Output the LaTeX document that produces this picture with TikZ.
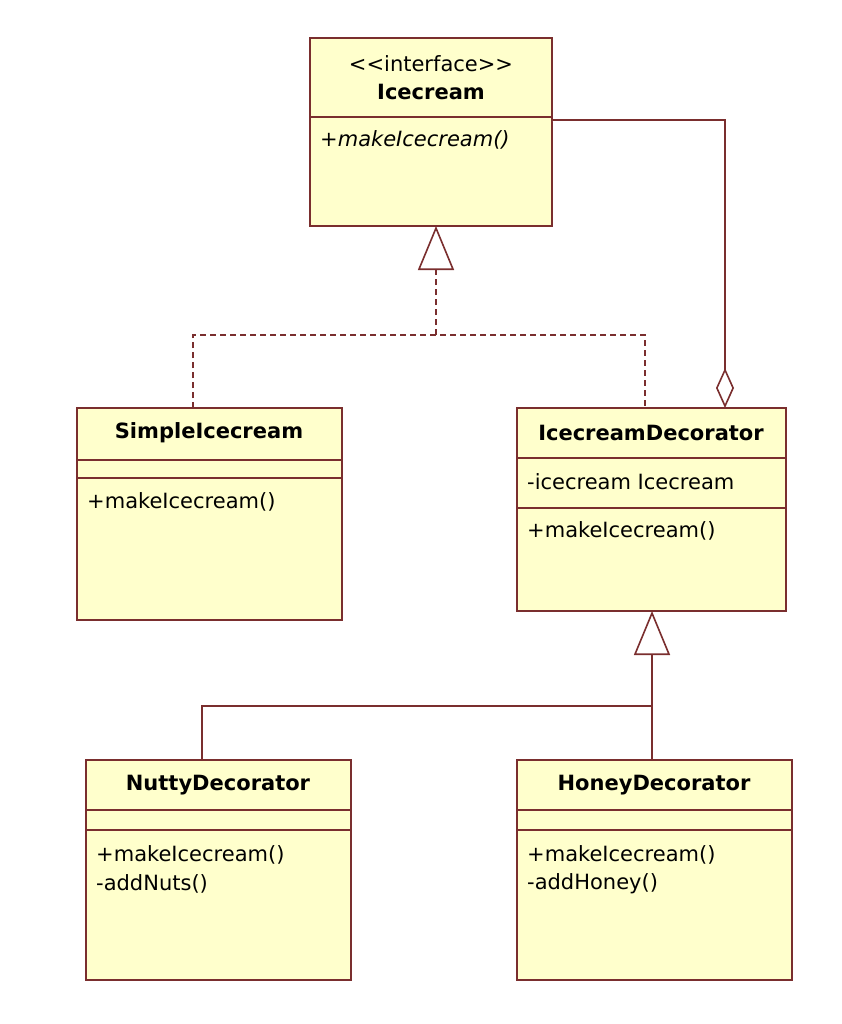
\documentclass[tikz,border=0pt]{standalone}
\usepackage{fontspec}
\setmainfont{DejaVu Sans}[Ligatures=NoCommon]
\usetikzlibrary{arrows.meta}
\definecolor{umlfill}{HTML}{FFFFCC}
\definecolor{umlline}{HTML}{7A2E2E}
\begin{document}
\begin{tikzpicture}[x=1pt,y=-1pt,
  box/.style={draw=umlline,fill=umlfill,line width=1.6pt},
  div/.style={draw=umlline,line width=1.6pt},
  conn/.style={draw=umlline,line width=1.6pt},
  txt/.style={font=\fontsize{21}{24}\selectfont,anchor=west,inner sep=0pt},
  ttl/.style={font=\fontsize{21}{24}\selectfont\bfseries,inner sep=0pt},
  gen/.style={-{Triangle[open,length=44pt,width=36pt]},fill=white},
  agg/.style={-{Diamond[open,length=40pt,width=18pt]},fill=white}]
\useasboundingbox (0,0) rectangle (841,1024);
\fill[white] (0,0) rectangle (841,1024);
% Icecream
\draw[box] (310,38) rectangle (552,226);
\draw[div] (310,117) -- (552,117);
\node[inner sep=0pt,font=\fontsize{21}{24}\selectfont] (ist) at (431,64) {<\kern0pt<interface>\kern0pt>};
\node[ttl] (ice) at (431,92) {Icecream};
\node[txt,font=\fontsize{21}{24}\selectfont\itshape] (icem) at (320,140) {+makeIcecream()};
\coordinate (iceR) at (552,120);
\coordinate (iceB) at (436,226);
% SimpleIcecream
\draw[box] (77,408) rectangle (342,620);
\draw[div] (77,460) -- (342,460);
\draw[div] (77,478) -- (342,478);
\node[ttl] (simple) at (209,433) {SimpleIcecream};
\node[txt] (simplem) at (87,502) {+makeIcecream()};
% IcecreamDecorator
\draw[box] (517,408) rectangle (786,611);
\draw[div] (517,458) -- (786,458);
\draw[div] (517,508) -- (786,508);
\node[ttl] (dec) at (651,433) {IcecreamDecorator};
\node[txt] (deca) at (527,482) {-icecream Icecream};
\node[txt] (decm) at (527,531) {+makeIcecream()};
% Nutty
\draw[box] (86,760) rectangle (351,980);
\draw[div] (86,810) -- (351,810);
\draw[div] (86,830) -- (351,830);
\node[ttl] (nutty) at (218,785) {NuttyDecorator};
\node[txt] (nm1) at (96,855) {+makeIcecream()};
\node[txt] (nm2) at (96,884) {-addNuts()};
% Honey
\draw[box] (517,760) rectangle (792,980);
\draw[div] (517,810) -- (792,810);
\draw[div] (517,830) -- (792,830);
\node[ttl] (honey) at (654,785) {HoneyDecorator};
\node[txt] (hm1) at (527,855) {+makeIcecream()};
\node[txt] (hm2) at (527,884) {-addHoney()};
% connectors
\coordinate (sT) at (193,408);
\coordinate (dT) at (645,408);
\coordinate (j1) at (436,335);
\draw[conn,dash pattern=on 6pt off 4pt] (sT) -- (193,335) -- (645,335) -- (dT);
\draw[conn,dash pattern=on 6pt off 4pt] (j1) -- (436,272);
\draw[conn,gen] (436,273) -- (iceB);
\draw[conn,agg] (iceR) -| (725,408);
\coordinate (decB) at (652,611);
\coordinate (j2) at (652,706);
\draw[conn] (652,760) -- (j2) -| (202,760);
\draw[conn,gen] (j2) -- (decB);
\end{tikzpicture}
\end{document}
